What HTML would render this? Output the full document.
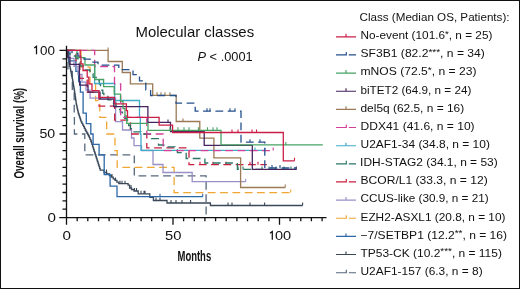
<!DOCTYPE html>
<html><head><meta charset="utf-8"><style>
html,body{margin:0;padding:0;background:#fff;}
.wrap{position:relative;width:520px;height:289px;overflow:hidden;background:#fff;}
.wrap:after{content:"";position:absolute;left:0;top:0;width:518px;height:287px;border:1px solid #111;}
svg{position:absolute;left:0;top:0;will-change:transform;font-family:"Liberation Sans", sans-serif;fill:#1a1a1a;}
svg text{fill:#111;}
</style></head><body><div class="wrap">
<svg width="520" height="289" viewBox="0 0 520 289">
<path d="M66.5 50.4H68.0V71.3H72.3V92.2H74.2V113.1H74.4V134.0H84.8V154.9H134.3V175.8H206.1V217.6H206.1" fill="none" stroke="#56687c" stroke-width="1.3" stroke-dasharray="7.8,4.5" stroke-dashoffset="11.7"/>
<path d="M66.5 50.4H66.8V52.0H67.2V53.7H67.5V55.3H67.8V56.9H68.2V58.6H68.5V60.2H68.8V61.8H69.2V63.5H69.5V65.1H69.8V66.7H70.2V68.4H70.5V70.0H70.8V71.7H71.2V73.3H71.5V75.0H71.8V76.7H72.2V78.3H72.5V80.0H72.8V81.7H73.1V83.3H73.3V85.0H73.6V86.7H73.9V88.3H74.2V90.0H74.5V91.7H74.7V93.5H75.0V95.2H75.2V96.9H75.5V98.6H75.7V100.3H76.0V102.1H76.2V103.8H76.5V105.4H76.9V107.0H77.2V108.7H77.6V110.3H78.0V111.9H78.3V113.5H78.9V115.2H79.4V116.8H80.0V118.5H80.5V120.1H81.1V121.8H81.9V123.4H82.7V125.1H83.6V126.7H84.4V128.4H85.2V130.0H86.0V131.5H86.8V133.0H87.7V134.5H88.5V136.0H89.3V137.7H90.0V139.3H90.8V141.0H91.4V142.7H91.9V144.4H92.5V146.1H93.0V147.8H93.6V149.6H94.1V151.3H94.7V153.0H95.2V154.7H95.8V156.4H96.3V158.1H96.9V159.8H97.4V161.5H98.0V163.3H98.5V165.0H99.1V166.7H99.6V168.4H100.2V170.1H104.0V172.5H106.7V174.0H109.4V175.5H111.3V177.1H113.2V178.8H115.0V180.4H116.9V182.1H118.8V183.7H128.1V185.1H129.6V188.0H131.5V189.5H134.0V191.0H138.2V193.8H149.8V197.4H153.4V200.5H167.0V203.0H210.4V205.5H302.6" fill="none" stroke="#3a4858" stroke-width="1.3"/>
<path d="M120.0 183.7v-3M125.0 183.7v-3M145.0 193.8v-3M190.6 203.0v-3M228.0 205.5v-3M232.0 205.5v-3M250.0 205.5v-3M264.6 205.5v-3M302.6 205.5v-3M106.5 172.5v-3M112.0 177.1v-3M115.5 180.4v-3M122.0 183.7v-3M131.0 188.0v-3M134.5 191.0v-3M136.5 191.0v-3M141.0 193.8v-3M144.0 193.8v-3M156.0 200.5v-3M160.0 200.5v-3M171.0 203.0v-3M176.0 203.0v-3M182.0 203.0v-3" fill="none" stroke="#3a4858" stroke-width="1.1"/>
<path d="M66.5 50.4H69.0V60.8H75.9V71.3H78.6V81.7H80.4V92.2H83.1V113.1H86.3V123.6H90.8V134.0H93.1V144.4H99.1V154.9H104.2V174.5H110.1V186.2H117.0V196.7H202.7" fill="none" stroke="#2c68a8" stroke-width="1.3"/>
<path d="M160.0 196.7v-3M202.7 196.7v-3" fill="none" stroke="#2c68a8" stroke-width="1.1"/>
<path d="M66.5 50.4H81.0V67.1H90.0V83.8H95.6V100.6H99.8V117.3H106.7V134.0H115.0V150.7H117.2V167.4H174.1V192.6H290.7" fill="none" stroke="#f2a634" stroke-width="1.3" stroke-dasharray="7.8,4.5" stroke-dashoffset="11.7"/>
<path d="M290.7 192.6v-3" fill="none" stroke="#f2a634" stroke-width="1.1"/>
<path d="M66.5 50.4H70.0V58.4H74.0V66.3H78.0V74.3H82.0V82.2H86.0V90.2H90.1V98.2H115.6V121.6H122.5V130.0H131.5V138.0H134.0V145.6H141.5V150.5H153.0V164.5H163.0V172.5H192.2V181.7H245.7" fill="none" stroke="#9a90c8" stroke-width="1.3"/>
<path d="M245.7 181.7v-3" fill="none" stroke="#9a90c8" stroke-width="1.1"/>
<path d="M66.5 50.4H76.0V64.3H79.8V78.3H87.2V92.2H99.0V106.1H114.7V120.1H130.5V134.0H146.8V147.9H189.0V164.7H266.8" fill="none" stroke="#c8203e" stroke-width="1.3" stroke-dasharray="7.8,4.5" stroke-dashoffset="11.7"/>
<path d="M200.0 164.7v-3M213.0 164.7v-3M226.0 164.7v-3M250.0 164.7v-3M258.0 164.7v-3" fill="none" stroke="#c8203e" stroke-width="1.1"/>
<path d="M66.5 50.4H68.2V53.2H70.0V56.0H76.0V58.5H78.0V62.2H80.0V66.0H85.0V70.0H90.0V74.0H93.1V77.3H96.2V80.7H99.3V84.0H100.5V87.1H101.6V90.2H102.8V93.3H103.9V96.4H107.9V99.8H112.0V103.1H116.0V106.5H118.2V109.3H120.3V112.2H122.5V115.0H124.8V118.7H127.1V122.3H128.7V125.5H130.4V128.6H132.0V131.8H141.0V134.0H150.3V138.6H158.3V139.8H158.5V145.0H163.8V146.8H175.0V149.8H177.4V152.7H186.2V158.5H204.9V163.0H237.4V169.4H296.4" fill="none" stroke="#2a7566" stroke-width="1.3" stroke-dasharray="7.8,4.5" stroke-dashoffset="11.7"/>
<path d="M238.0 169.4v-3M243.0 169.4v-3M262.0 169.4v-3M269.0 169.4v-3M276.0 169.4v-3M284.0 169.4v-3M291.0 169.4v-3" fill="none" stroke="#2a7566" stroke-width="1.1"/>
<path d="M94.6 64.0H94.6V83.5H114.7V100.5H139.5V117.3H140.3V134.0H141.0V150.4H265.0" fill="none" stroke="#40aac8" stroke-width="1.3"/>
<path d="M255.0 150.4v-3M265.0 150.4v-3" fill="none" stroke="#40aac8" stroke-width="1.1"/>
<path d="M66.5 50.4H108.1V61.5H122.3V72.5H130.4V83.8H152.7V95.3H176.2V121.5H199.8V138.2H213.9V157.8H240.6V187.5H285.2" fill="none" stroke="#9c7a55" stroke-width="1.3"/>
<path d="M108.1 50.4v-3M157.0 95.3v-3M161.0 95.3v-3M165.0 95.3v-3M170.0 95.3v-3M183.0 121.5v-3M285.2 187.5v-3" fill="none" stroke="#9c7a55" stroke-width="1.1"/>
<path d="M66.5 50.4H94.7V66.5H114.5V83.8H120.7V117.3H146.8V134.0H163.2V150.6H273.2" fill="none" stroke="#d2409a" stroke-width="1.3" stroke-dasharray="7.8,4.5" stroke-dashoffset="11.7"/>
<path d="M273.2 150.6v-3" fill="none" stroke="#d2409a" stroke-width="1.1"/>
<path d="M66.5 50.4H68.0V57.4H70.0V64.3H79.4V78.3H79.6V85.2H88.0V92.2H100.0V99.2H113.8V106.6H147.9V122.4H170.5V131.7H204.2V145.4H252.3V169.4H296.3" fill="none" stroke="#46255f" stroke-width="1.3"/>
<path d="M168.0 122.4v-3M296.3 169.4v-3" fill="none" stroke="#46255f" stroke-width="1.1"/>
<path d="M66.5 50.4H77.0V57.7H85.0V65.0H94.7V79.5H103.6V86.7H114.2V94.1H120.5V101.2H123.0V108.6H125.0V115.8H126.8V123.3H148.0V130.3H221.0V144.9H322.8" fill="none" stroke="#47a263" stroke-width="1.3"/>
<path d="M170.0 130.3v-3M178.0 130.3v-3M184.0 130.3v-3M189.0 130.3v-3M198.5 130.3v-3M207.5 130.3v-3M213.0 130.3v-3M217.0 130.3v-3M285.8 144.9v-3" fill="none" stroke="#47a263" stroke-width="1.1"/>
<path d="M66.5 50.4H72.0V53.3H78.0V56.2H84.0V59.2H90.0V62.1H98.0V65.1H118.8V69.6H133.0V74.6H139.5V80.8H145.8V89.8H150.6V95.5H176.0V103.1H195.2V111.2H241.0V142.2H264.8V168.0H296.0" fill="none" stroke="#24508c" stroke-width="1.3" stroke-dasharray="7.8,4.5" stroke-dashoffset="11.7"/>
<path d="M207.0 111.2v-3M210.0 111.2v-3M230.0 111.2v-3M235.0 111.2v-3M250.0 142.2v-3M260.0 142.2v-3M272.0 168.0v-3M280.0 168.0v-3" fill="none" stroke="#24508c" stroke-width="1.1"/>
<path d="M66.5 50.4H80.2V57.1H81.0V63.8H83.0V70.5H87.2V77.2H88.8V83.9H92.0V90.6H99.0V97.3H114.5V103.9H126.4V110.6H127.5V117.4H159.1V125.1H172.6V132.5H283.3V160.8H294.5" fill="none" stroke="#cc1f48" stroke-width="1.3"/>
<path d="M232.0 132.5v-3M238.0 132.5v-3M252.0 132.5v-3M256.5 132.5v-3M294.5 160.8v-3" fill="none" stroke="#cc1f48" stroke-width="1.1"/>
<path d="M66.5 45.8V224.7M59.3 217.6H326.5M59.5 134.0H66.5M59.5 50.4H66.5M62.5 209.2H66.5M62.5 200.9H66.5M62.5 192.5H66.5M62.5 184.2H66.5M62.5 175.8H66.5M62.5 167.4H66.5M62.5 159.1H66.5M62.5 150.7H66.5M62.5 142.4H66.5M62.5 125.6H66.5M62.5 117.3H66.5M62.5 108.9H66.5M62.5 100.6H66.5M62.5 92.2H66.5M62.5 83.8H66.5M62.5 75.5H66.5M62.5 67.1H66.5M62.5 58.8H66.5M173.0 217.6V224.7M279.5 217.6V224.7M77.2 217.6V221.2M87.8 217.6V221.2M98.5 217.6V221.2M109.1 217.6V221.2M119.8 217.6V221.2M130.4 217.6V221.2M141.1 217.6V221.2M151.7 217.6V221.2M162.3 217.6V221.2M183.6 217.6V221.2M194.3 217.6V221.2M204.9 217.6V221.2M215.6 217.6V221.2M226.2 217.6V221.2M236.9 217.6V221.2M247.5 217.6V221.2M258.2 217.6V221.2M268.9 217.6V221.2M290.1 217.6V221.2M300.8 217.6V221.2M311.4 217.6V221.2M322.1 217.6V221.2" fill="none" stroke="#111" stroke-width="1.3"/>
<text x="135.5" y="36.5" font-size="14.8" textLength="118.62" lengthAdjust="spacingAndGlyphs">Molecular classes</text>
<text x="197.5" y="60.9" font-size="12.0" textLength="55.17" lengthAdjust="spacingAndGlyphs"><tspan font-style="italic">P</tspan> &lt; .0001</text>
<text x="359.5" y="21.1" font-size="11.5" textLength="150.03" lengthAdjust="spacingAndGlyphs">Class (Median OS, Patients):</text>
<text x="360.5" y="39.1" font-size="11.5" textLength="131.89" lengthAdjust="spacingAndGlyphs">No-event (101.6<tspan font-size="9.5" dy="-2.6">*</tspan><tspan dy="2.6">, n = 25)</tspan></text>
<text x="360.5" y="57.25" font-size="11.5" textLength="124.34" lengthAdjust="spacingAndGlyphs">SF3B1 (82.2<tspan font-size="9.5" dy="-2.6">***</tspan><tspan dy="2.6">, n = 34)</tspan></text>
<text x="360.5" y="75.4" font-size="11.5" textLength="115.95" lengthAdjust="spacingAndGlyphs">mNOS (72.5<tspan font-size="9.5" dy="-2.6">*</tspan><tspan dy="2.6">, n = 23)</tspan></text>
<text x="360.5" y="93.55" font-size="11.5" textLength="110.83" lengthAdjust="spacingAndGlyphs">biTET2 (64.9, n = 24)</text>
<text x="360.5" y="111.7" font-size="11.5" textLength="103.62" lengthAdjust="spacingAndGlyphs">del5q (62.5, n = 16)</text>
<text x="360.5" y="129.85" font-size="11.5" textLength="114.13" lengthAdjust="spacingAndGlyphs">DDX41 (41.6, n = 10)</text>
<text x="360.5" y="148.0" font-size="11.5" textLength="129.43" lengthAdjust="spacingAndGlyphs">U2AF1-34 (34.8, n = 10)</text>
<text x="360.1" y="166.15" font-size="11.5" textLength="137.62" lengthAdjust="spacingAndGlyphs">IDH-STAG2 (34.1, n = 53)</text>
<text x="360.5" y="184.3" font-size="11.5" textLength="127.18" lengthAdjust="spacingAndGlyphs">BCOR/L1 (33.3, n = 12)</text>
<text x="360.5" y="202.45" font-size="11.5" textLength="128.17" lengthAdjust="spacingAndGlyphs">CCUS-like (30.9, n = 21)</text>
<text x="360.5" y="220.6" font-size="11.5" textLength="144.97" lengthAdjust="spacingAndGlyphs">EZH2-ASXL1 (20.8, n = 10)</text>
<text x="360.5" y="238.75" font-size="11.5" textLength="146.57" lengthAdjust="spacingAndGlyphs">−7/SETBP1 (12.2<tspan font-size="9.5" dy="-2.6">**</tspan><tspan dy="2.6">, n = 16)</tspan></text>
<text x="360.5" y="256.9" font-size="11.5" textLength="141.44" lengthAdjust="spacingAndGlyphs">TP53-CK (10.2<tspan font-size="9.5" dy="-2.6">***</tspan><tspan dy="2.6">, n = 115)</tspan></text>
<text x="360.5" y="275.05" font-size="11.5" textLength="122.1" lengthAdjust="spacingAndGlyphs">U2AF1-157 (6.3, n = 8)</text>
<text x="40.0" y="54.5" font-size="12.2" textLength="14.94" lengthAdjust="spacingAndGlyphs">00</text>
<text x="39.5" y="137.8" font-size="12.2" textLength="15.75" lengthAdjust="spacingAndGlyphs">50</text>
<text x="47.5" y="221.7" font-size="12.2" textLength="8.44" lengthAdjust="spacingAndGlyphs">0</text>
<text x="62.5" y="239.8" font-size="12.2" textLength="8.44" lengthAdjust="spacingAndGlyphs">0</text>
<text x="165.0" y="239.8" font-size="12.2" textLength="16.41" lengthAdjust="spacingAndGlyphs">50</text>
<text x="275.0" y="239.8" font-size="12.2" textLength="16.2" lengthAdjust="spacingAndGlyphs">00</text>
<text x="177.5" y="260.8" font-size="14.9" textLength="33.66" lengthAdjust="spacingAndGlyphs" font-weight="bold">Months</text>
<text transform="translate(23.6,178.5) rotate(-90)" x="0" y="0" font-size="14.8" textLength="90.62" lengthAdjust="spacingAndGlyphs" font-weight="bold">Overall survival (%)</text>
<path d="M34.2 48.0L36.5 46.3V54.3" fill="none" stroke="#111" stroke-width="1.25" stroke-linejoin="miter"/>
<path d="M270.0 233.2L272.3 231.5V239.7" fill="none" stroke="#111" stroke-width="1.25" stroke-linejoin="miter"/>
<path d="M336 36.8H356M346 36.8V33.8" fill="none" stroke="#cc1f48" stroke-width="1.15"/>
<path d="M336 54.9H346.3V51.9M348.8 54.9H356" fill="none" stroke="#24508c" stroke-width="1.15"/>
<path d="M336 73.1H356M346 73.1V70.1" fill="none" stroke="#47a263" stroke-width="1.15"/>
<path d="M336 91.2H356M346 91.2V88.2" fill="none" stroke="#46255f" stroke-width="1.15"/>
<path d="M336 109.3H356M346 109.3V106.3" fill="none" stroke="#9c7a55" stroke-width="1.15"/>
<path d="M336 127.5H346.3V124.5M348.8 127.5H356" fill="none" stroke="#d2409a" stroke-width="1.15"/>
<path d="M336 145.7H356M346 145.7V142.7" fill="none" stroke="#40aac8" stroke-width="1.15"/>
<path d="M336 163.8H346.3V160.8M348.8 163.8H356" fill="none" stroke="#2a7566" stroke-width="1.15"/>
<path d="M336 181.9H346.3V178.9M348.8 181.9H356" fill="none" stroke="#c8203e" stroke-width="1.15"/>
<path d="M336 200.1H356M346 200.1V197.1" fill="none" stroke="#9a90c8" stroke-width="1.15"/>
<path d="M336 218.2H346.3V215.2M348.8 218.2H356" fill="none" stroke="#f2a634" stroke-width="1.15"/>
<path d="M336 236.4H356M346 236.4V233.4" fill="none" stroke="#2c68a8" stroke-width="1.15"/>
<path d="M336 254.5H356M346 254.5V251.5" fill="none" stroke="#3a4858" stroke-width="1.15"/>
<path d="M336 272.7H346.3V269.7M348.8 272.7H356" fill="none" stroke="#56687c" stroke-width="1.15"/>
</svg>
</div></body></html>
